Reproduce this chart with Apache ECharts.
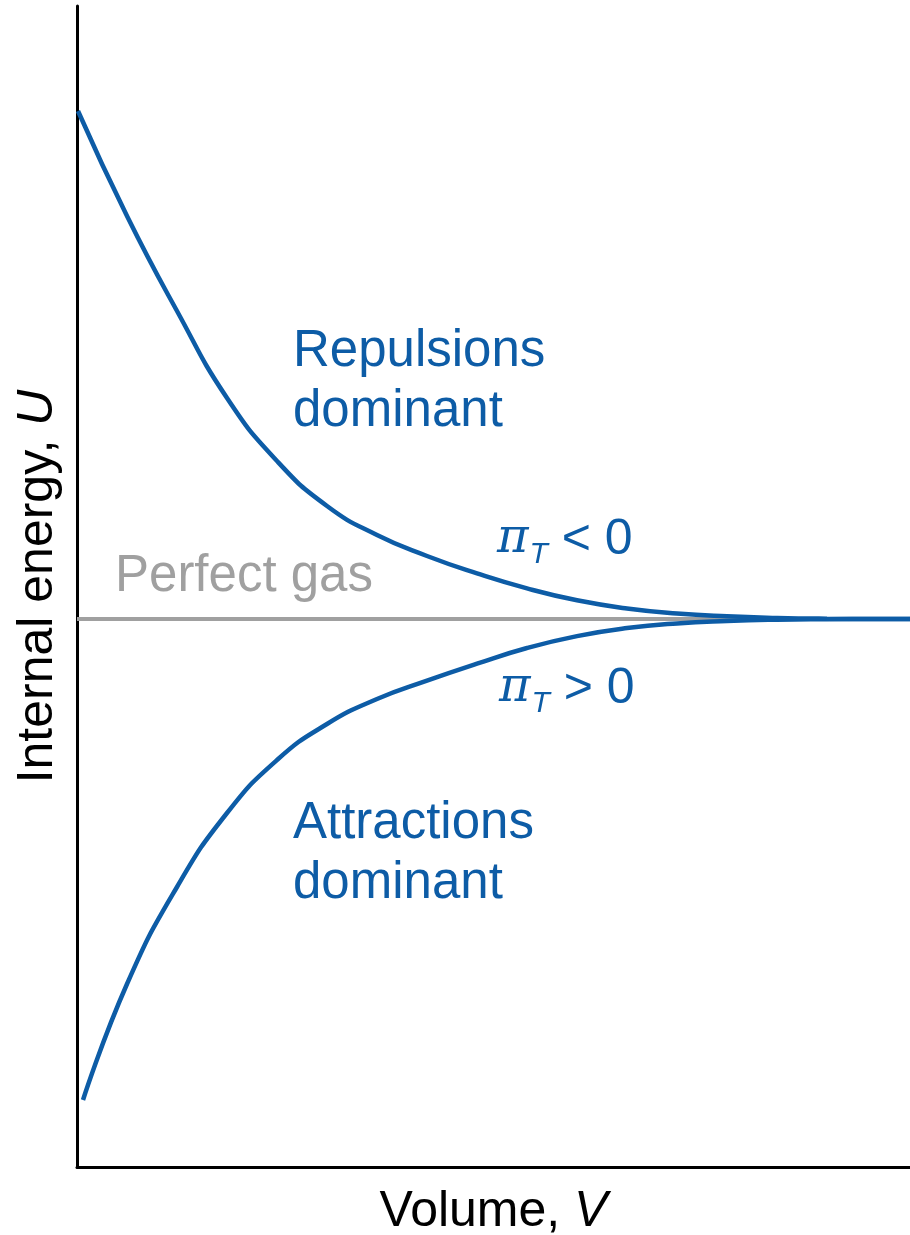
<!DOCTYPE html>
<html>
<head>
<meta charset="utf-8">
<script src="https://cdn.jsdelivr.net/npm/echarts@6/dist/echarts.min.js"></script>
<style>
html,body{margin:0;padding:0;background:#fff;}
#chart{width:910px;height:1235px;}
</style>
</head>
<body>
<div id="chart"></div>
<script>
// Arbitrary units (no tick labels in the reference)
var volumeRange = [0, 8.33];
var energyRange = [-5.48, 6.13];

var volumes = [0.01, 0.50, 1.00, 1.50, 2.00, 2.50, 3.00, 3.50, 4.00, 4.50, 5.00, 5.50, 6.00, 6.50, 7.00, 7.50, 8.00, 8.33];
var repulsionEnergy = [5.08, 4.03, 3.08, 2.21, 1.58, 1.13, 0.84, 0.63, 0.456, 0.306, 0.187, 0.105, 0.055, 0.027, 0.011, 0.003, 0.0005, 0];

var attractionVolumes = [0.06, 0.50, 1.00, 1.50, 2.00, 2.50, 3.00, 3.50, 4.00, 4.50, 5.00, 5.50, 6.00, 6.50, 7.00, 7.50, 8.00, 8.33];
var attractionEnergy = [-4.81, -3.65, -2.68, -1.94, -1.41, -1.05, -0.80, -0.616, -0.447, -0.29, -0.171, -0.091, -0.044, -0.02, -0.007, -0.002, 0, 0];

var perfectGasVolumes = [0, 8.33];
var perfectGasEnergy = [0, 0];

function pairs(xs, ys) { return xs.map(function (x, i) { return [x, ys[i]]; }); }

var BLUE = '#0d5ca6';
var GRAY = '#a0a0a0';
var FONT = '"Liberation Sans", Arial, Helvetica, sans-serif';

var chart = echarts.init(document.getElementById('chart'), null, {renderer: 'canvas'});

var axisCommon = {
  type: 'value',
  axisLine: {show: true, onZero: false, lineStyle: {color: '#000', width: 3}},
  axisTick: {show: false},
  axisLabel: {show: false},
  splitLine: {show: false},
  nameLocation: 'middle',
  nameTextStyle: {
    fontFamily: FONT, fontSize: 50, color: '#000',
    rich: {i: {fontFamily: FONT, fontSize: 50, fontStyle: 'italic', color: '#000'}}
  }
};

function piLabel(sign) {
  return {
    text: '{p|π}{s|T}{n| ' + sign + ' 0}',
    rich: {
      p: {fontFamily: '"DejaVu Serif", serif', fontStyle: 'italic', fontSize: 48, fill: BLUE},
      s: {fontFamily: FONT, fontStyle: 'italic', fontSize: 30, fill: BLUE, padding: [30, 0, 0, 1]},
      n: {fontFamily: FONT, fontSize: 50, fill: BLUE}
    }
  };
}

var lineCommon = {type: 'line', smooth: true, showSymbol: false};

var option = {
  backgroundColor: '#fff',
  animation: false,
  grid: {left: 77, top: 6, width: 833, height: 1161, containLabel: false, outerBoundsMode: 'none'},
  xAxis: Object.assign({}, axisCommon, {
    min: volumeRange[0], max: volumeRange[1],
    name: 'Volume, {i|V}', nameGap: 20
  }),
  yAxis: Object.assign({}, axisCommon, {
    min: energyRange[0], max: energyRange[1],
    name: 'Internal energy, {i|U}', nameGap: 14
  }),
  series: [
    Object.assign({}, lineCommon, {data: pairs(perfectGasVolumes, perfectGasEnergy), smooth: false, lineStyle: {color: GRAY, width: 4}, z: 1}),
    Object.assign({}, lineCommon, {data: pairs(attractionVolumes, attractionEnergy), lineStyle: {color: BLUE, width: 4.5}, z: 2}),
    Object.assign({}, lineCommon, {data: pairs(volumes, repulsionEnergy), lineStyle: {color: BLUE, width: 4.5}, z: 3})
  ],
  graphic: [
    {type: 'text', left: 115, top: 551, style: {text: 'Perfect gas', fill: GRAY, font: '51px ' + FONT}},
    {type: 'text', left: 293, top: 322, style: {text: 'Repulsions\ndominant', fill: BLUE, font: '51px ' + FONT, lineHeight: 60}},
    {type: 'text', left: 293, top: 794, style: {text: 'Attractions\ndominant', fill: BLUE, font: '51px ' + FONT, lineHeight: 60}},
    {type: 'text', left: 497, top: 515, style: piLabel('<')},
    {type: 'text', left: 499, top: 664, style: piLabel('>')}
  ]
};
chart.setOption(option);
</script>
</body>
</html>
